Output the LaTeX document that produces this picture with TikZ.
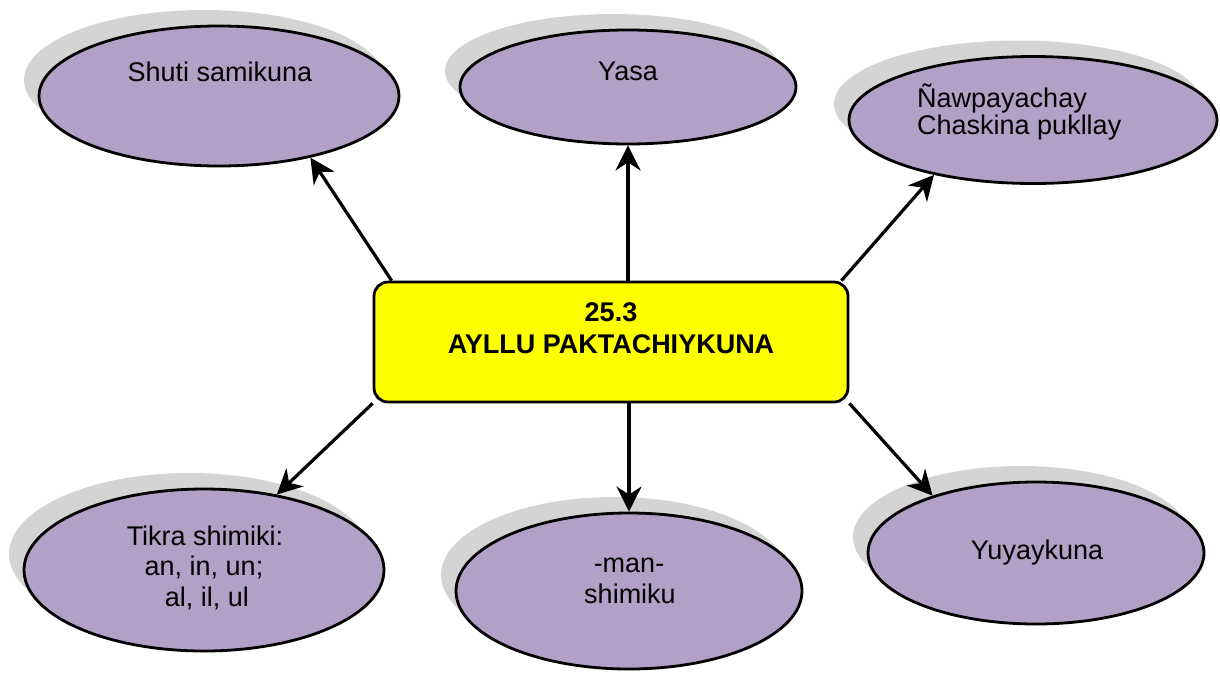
\documentclass[tikz,border=0pt]{standalone}
\usepackage{fontspec}
\setmainfont{Liberation Sans}
\usetikzlibrary{shapes.geometric,shadows,arrows.meta,calc}
\definecolor{lav}{RGB}{178,161,199}
\definecolor{shad}{RGB}{212,212,212}
\definecolor{yel}{RGB}{255,255,0}
\begin{document}
\begin{tikzpicture}[x=1pt,y=-1pt,
  bubble/.style={ellipse, draw=black, line width=2.8pt, fill=lav, inner sep=0pt,
    general shadow={fill=shad, shadow xshift=-15pt, shadow yshift=16pt}},
  txt/.style={anchor=base, inner sep=0pt, font=\fontsize{27}{31}\selectfont},
  hubtxt/.style={anchor=base, inner sep=0pt, font=\bfseries\fontsize{27}{31}\selectfont},
  hub/.style={rectangle, rounded corners=14pt, draw=black, line width=2.8pt, fill=yel, inner sep=0pt},
  link/.style={line width=3.2pt, -{Stealth[length=25pt,width=25pt,inset=8pt]}}]
\useasboundingbox (0,0) rectangle (1220,675);

% bubbles
\node[bubble, minimum width=360pt, minimum height=140pt] (e1) at (219,96) {};
\node[bubble, minimum width=336pt, minimum height=114pt] (e2) at (628,87) {};
\node[bubble, minimum width=368pt, minimum height=127pt] (e3) at (1033,120) {};
\node[bubble, minimum width=360pt, minimum height=162pt] (e4) at (204,570) {};
\node[bubble, minimum width=346pt, minimum height=156pt] (e5) at (629,591) {};
\node[bubble, minimum width=336pt, minimum height=142pt] (e6) at (1036,553) {};

% central box
\node[hub, minimum width=474pt, minimum height=120pt] (box) at (611,342) {};
\node[hubtxt] (h1) at (611,321) {25.3};
\node[hubtxt] (h2) at (611,353) {AYLLU PAKTACHIYKUNA};

% texts
\node[txt] (t1) at (220,81) {Shuti samikuna};
\node[txt] (t2) at (628,80) {Yasa};
\node[txt, anchor=base west] (t3a) at (917,107) {Ñawpayachay};
\node[txt, anchor=base west] (t3b) at (917,134) {Chaskina pukllay};
\node[txt] (t4a) at (205,545) {Tikra shimiki:};
\node[txt] (t4b) at (204,575) {an, in, un;};
\node[txt] (t4c) at (207,606) {al, il, ul};
\node[txt] (t5a) at (629,572) {-man-};
\node[txt] (t5b) at (630,603) {shimiku};
\node[txt] (t6) at (1037,559) {Yuyaykuna};

% connectors
\draw[link] ($(box.north west)+(19,0)$) -- (e1.-34);
\draw[link] (box.north -| e2.south) -- (e2.south);
\draw[link] ($(box.north east)+(-8,0)$) -- (e3.-151);
\draw[link] (box.south west) -- (e4.46);
\draw[link] (box.south -| e5.north) -- (e5.north);
\draw[link] (box.south east) -- (e6.151);
\end{tikzpicture}
\end{document}
